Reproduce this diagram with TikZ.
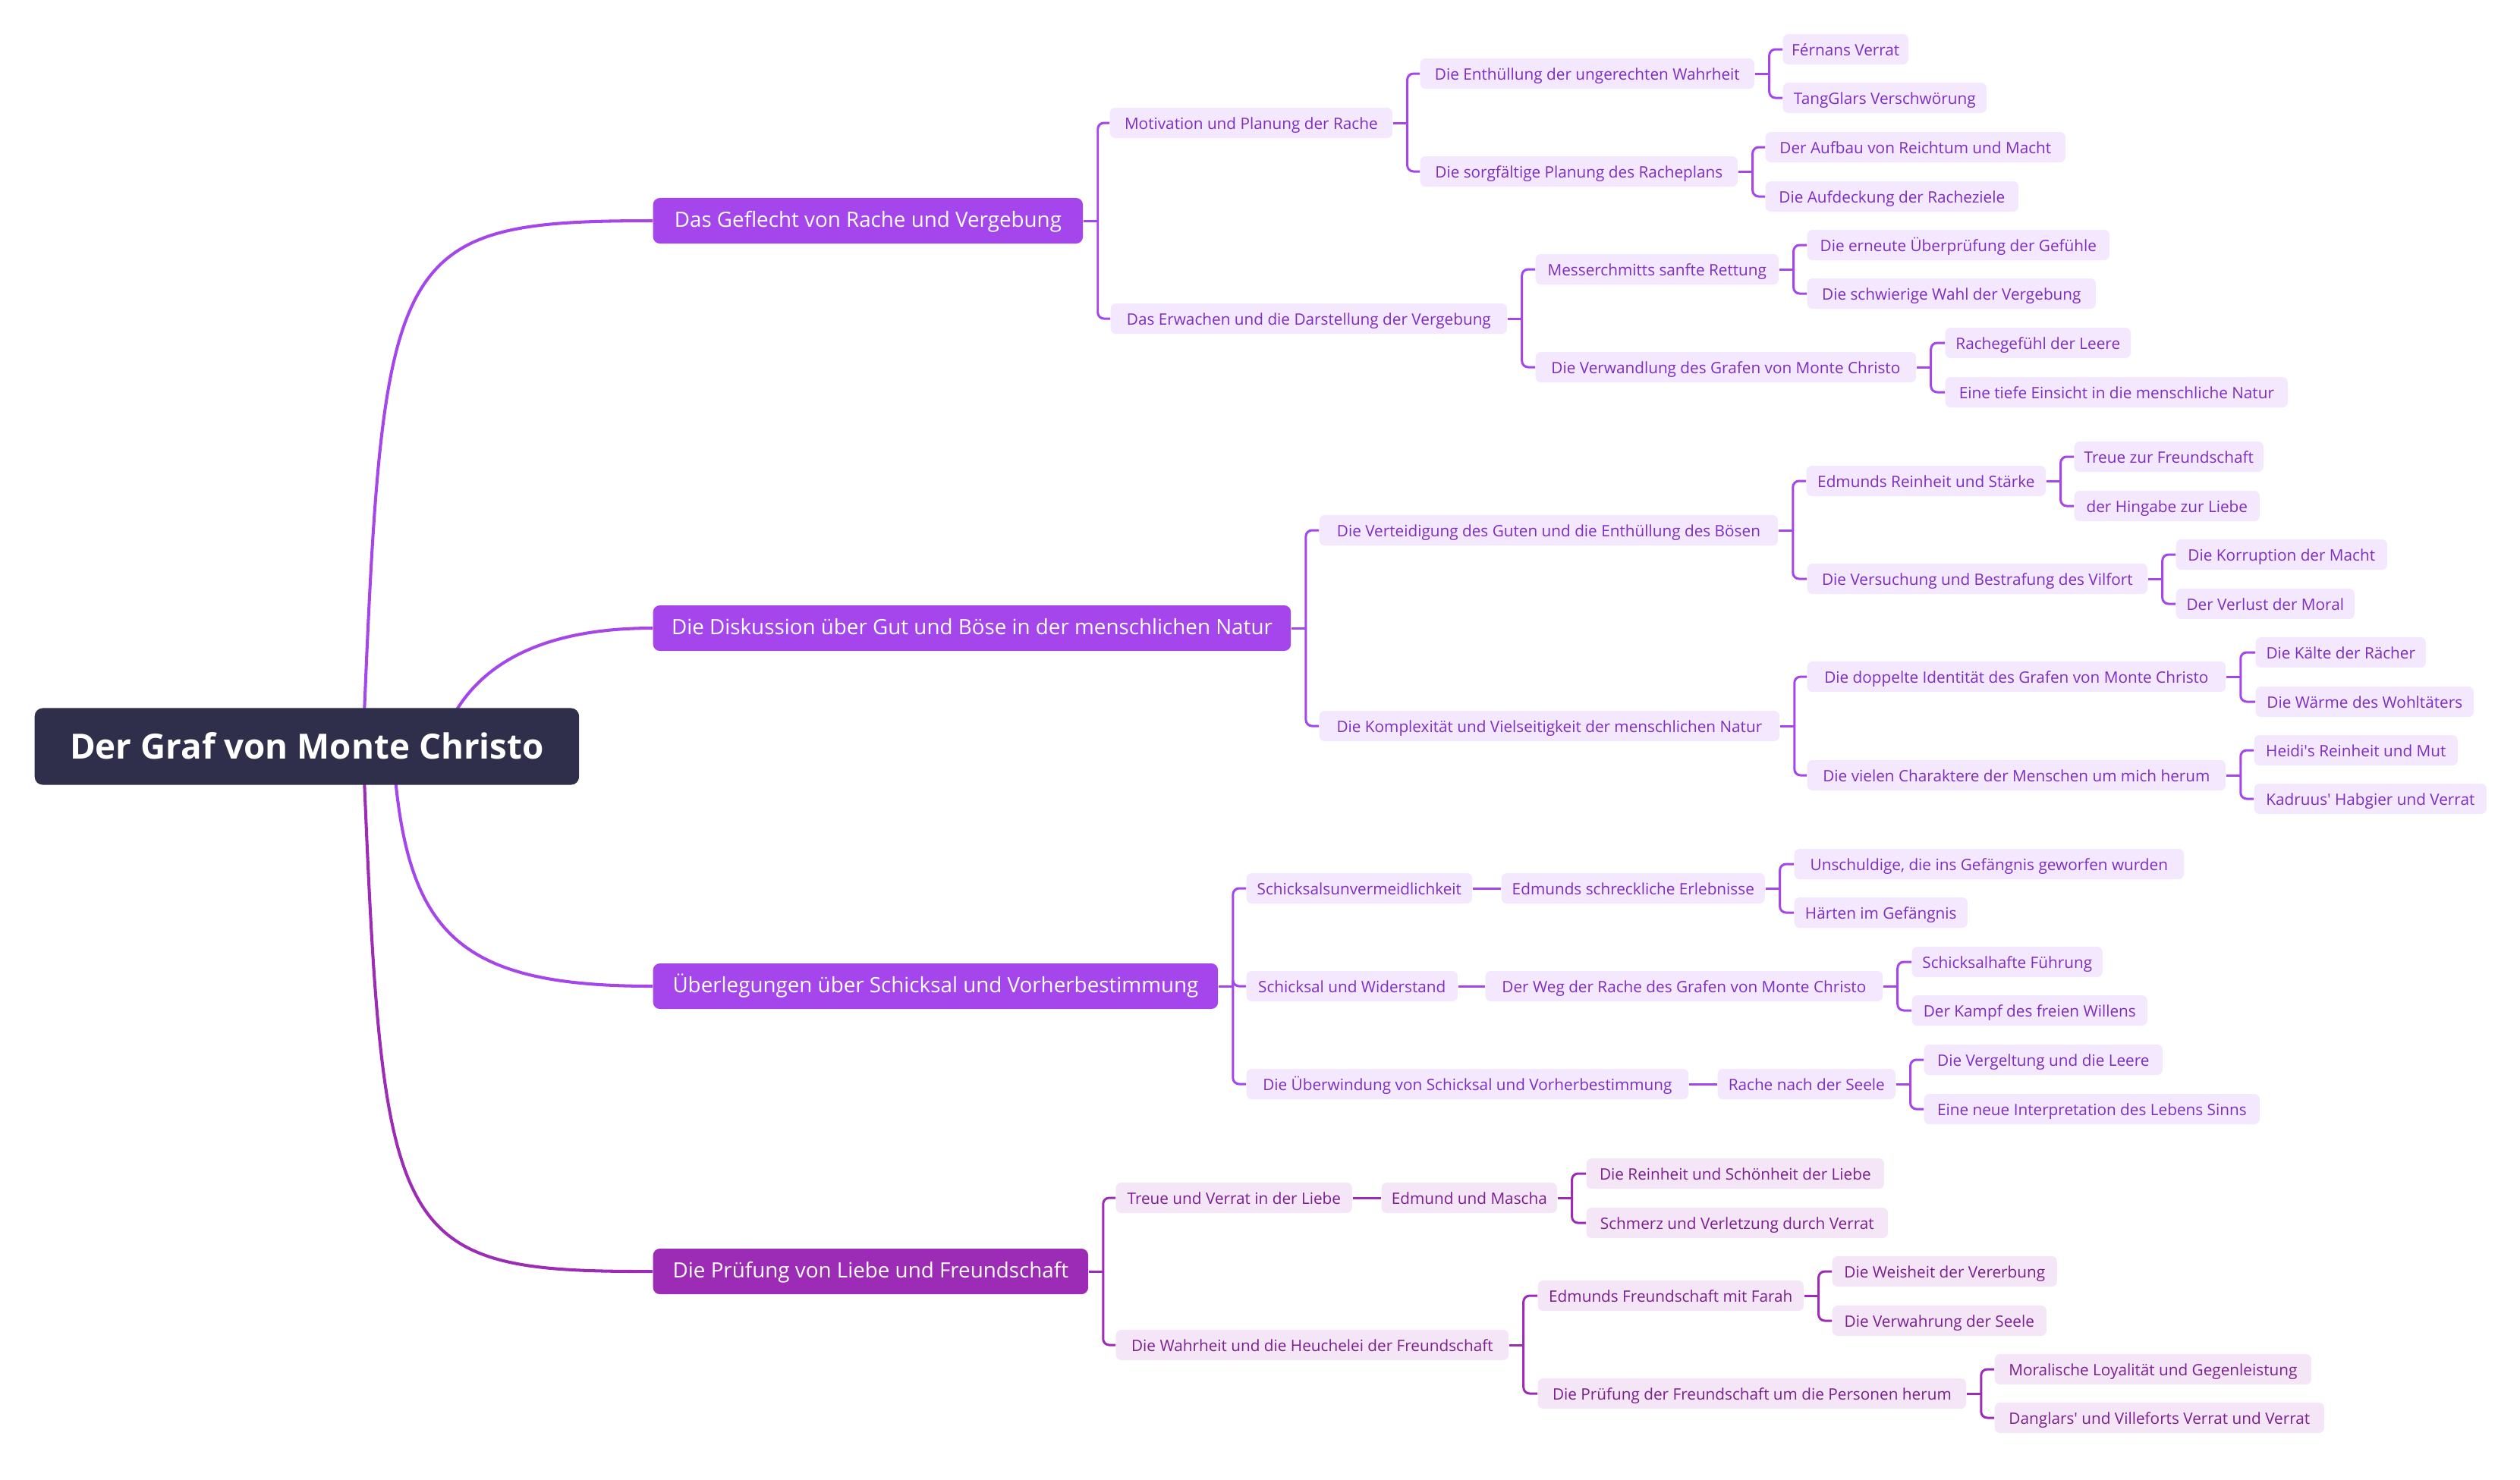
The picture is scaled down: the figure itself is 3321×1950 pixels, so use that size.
\documentclass[tikz,border=0pt]{standalone}
\usepackage{fontspec}
\setmainfont{Open Sans}
\usetikzlibrary{backgrounds}
\definecolor{rootbg}{HTML}{302F4B}
\definecolor{violett}{HTML}{A446EB}
\definecolor{lila}{HTML}{9C2BB5}
\definecolor{flieder}{HTML}{F3E8FD}
\definecolor{fliedertext}{HTML}{7D2EBF}
\definecolor{rosa}{HTML}{F4E6F7}
\definecolor{rosatext}{HTML}{7A1F8E}
\begin{document}
\begin{tikzpicture}[x=0.01cm, y=-0.01cm,
    root/.style={fill=rootbg, text=white, rounded corners=3pt, anchor=west,
        minimum height=1.01cm, inner sep=0pt, text height=9.3pt, text depth=0pt,
        font=\fontsize{13}{15}\selectfont\bfseries},
    topic/.style={fill=violett, text=white, rounded corners=2.5pt, anchor=west,
        minimum height=0.6cm, inner sep=0pt, text height=1.33ex, text depth=0.4ex,
        font=\fontsize{7.9}{9}\selectfont},
    topicd/.style={topic, fill=lila},
    sub/.style={fill=flieder, text=fliedertext, rounded corners=2pt, anchor=west,
        minimum height=0.4cm, inner sep=0pt, text height=1.33ex, text depth=0.4ex,
        font=\fontsize{5.9}{7}\selectfont},
    subd/.style={sub, fill=rosa, text=rosatext},
    link/.style={draw=violett, line width=0.85pt, rounded corners=2.3pt},
    linkd/.style={link, draw=lila},
    ast/.style={draw=violett, line width=1.15pt},
    astd/.style={ast, draw=lila}]
\useasboundingbox (0,0) rectangle (3321,1950);

% Zentrum
\node[root, minimum width=7.17cm] (root) at (45,984) {Der Graf von Monte Christo};

% Hauptaeste
\node[topic, minimum width=5.66cm] (A1) at (860,291) {Das Geflecht von Rache und Vergebung};
\node[topic, minimum width=8.40cm] (B1) at (860,828) {Die Diskussion über Gut und Böse in der menschlichen Natur};
\node[topic, minimum width=7.44cm] (C1) at (860,1300) {Überlegungen über Schicksal und Vorherbestimmung};
\node[topicd, minimum width=5.73cm] (D1) at (860,1676) {Die Prüfung von Liebe und Freundschaft};

% Rache und Vergebung
\node[sub, minimum width=3.72cm] (a1) at (1462,162) {Motivation und Planung der Rache};
\node[sub, minimum width=4.40cm] (a11) at (1871,97) {Die Enthüllung der ungerechten Wahrheit};
\node[sub, minimum width=1.65cm] (a111) at (2349,65) {Férnans Verrat};
\node[sub, minimum width=2.68cm] (a112) at (2349,129) {TangGlars Verschwörung};
\node[sub, minimum width=4.18cm] (a12) at (1871,226) {Die sorgfältige Planung des Racheplans};
\node[sub, minimum width=3.95cm] (a121) at (2326,194) {Der Aufbau von Reichtum und Macht};
\node[sub, minimum width=3.33cm] (a122) at (2326,259) {Die Aufdeckung der Racheziele};
\node[sub, minimum width=5.22cm] (a2) at (1463,420) {Das Erwachen und die Darstellung der Vergebung};
\node[sub, minimum width=3.20cm] (a21) at (2023,355) {Messerchmitts sanfte Rettung};
\node[sub, minimum width=3.98cm] (a211) at (2381,323) {Die erneute Überprüfung der Gefühle};
\node[sub, minimum width=3.80cm] (a212) at (2381,387) {Die schwierige Wahl der Vergebung};
\node[sub, minimum width=5.01cm] (a22) at (2023,484) {Die Verwandlung des Grafen von Monte Christo};
\node[sub, minimum width=2.44cm] (a221) at (2563,452) {Rachegefühl der Leere};
\node[sub, minimum width=4.51cm] (a222) at (2563,517) {Eine tiefe Einsicht in die menschliche Natur};

% Gut und Boese
\node[sub, minimum width=6.04cm] (b1) at (1738,699) {Die Verteidigung des Guten und die Enthüllung des Bösen};
\node[sub, minimum width=3.15cm] (b11) at (2380,634) {Edmunds Reinheit und Stärke};
\node[sub, minimum width=2.49cm] (b111) at (2733,602) {Treue zur Freundschaft};
\node[sub, minimum width=2.44cm] (b112) at (2733,667) {der Hingabe zur Liebe};
\node[sub, minimum width=4.48cm] (b12) at (2381,763) {Die Versuchung und Bestrafung des Vilfort};
\node[sub, minimum width=2.78cm] (b121) at (2867,731) {Die Korruption der Macht};
\node[sub, minimum width=2.35cm] (b122) at (2867,796) {Der Verlust der Moral};
\node[sub, minimum width=6.06cm] (b2) at (1738,957) {Die Komplexität und Vielseitigkeit der menschlichen Natur};
\node[sub, minimum width=5.51cm] (b21) at (2381,892) {Die doppelte Identität des Grafen von Monte Christo};
\node[sub, minimum width=2.24cm] (b211) at (2972,860) {Die Kälte der Rächer};
\node[sub, minimum width=2.87cm] (b212) at (2972,925) {Die Wärme des Wohltäters};
\node[sub, minimum width=5.51cm] (b22) at (2381,1022) {Die vielen Charaktere der Menschen um mich herum};
\node[sub, minimum width=2.68cm] (b221) at (2970,989) {Heidi\textquotesingle s Reinheit und Mut};
\node[sub, minimum width=3.06cm] (b222) at (2970,1053) {Kadruus\textquotesingle{} Habgier und Verrat};

% Schicksal
\node[sub, minimum width=2.97cm] (c1) at (1642,1171) {Schicksalsunvermeidlichkeit};
\node[sub, minimum width=3.47cm] (c11) at (1978,1171) {Edmunds schreckliche Erlebnisse};
\node[sub, minimum width=5.13cm] (c111) at (2364,1139) {Unschuldige, die ins Gefängnis geworfen wurden};
\node[sub, minimum width=2.28cm] (c112) at (2364,1203) {Härten im Gefängnis};
\node[sub, minimum width=2.78cm] (c2) at (1642,1300) {Schicksal und Widerstand};
\node[sub, minimum width=5.23cm] (c21) at (1957,1300) {Der Weg der Rache des Grafen von Monte Christo};
\node[sub, minimum width=2.51cm] (c211) at (2519,1268) {Schicksalhafte Führung};
\node[sub, minimum width=3.10cm] (c212) at (2519,1332) {Der Kampf des freien Willens};
\node[sub, minimum width=5.82cm] (c3) at (1642,1429) {Die Überwindung von Schicksal und Vorherbestimmung};
\node[sub, minimum width=2.34cm] (c31) at (2263,1429) {Rache nach der Seele};
\node[sub, minimum width=3.14cm] (c311) at (2535,1397) {Die Vergeltung und die Leere};
\node[sub, minimum width=4.42cm] (c312) at (2535,1462) {Eine neue Interpretation des Lebens Sinns};

% Liebe und Freundschaft
\node[subd, minimum width=3.11cm] (d1) at (1470,1579) {Treue und Verrat in der Liebe};
\node[subd, minimum width=2.31cm] (d11) at (1820,1579) {Edmund und Mascha};
\node[subd, minimum width=3.92cm] (d111) at (2090,1547) {Die Reinheit und Schönheit der Liebe};
\node[subd, minimum width=3.97cm] (d112) at (2090,1612) {Schmerz und Verletzung durch Verrat};
\node[subd, minimum width=5.17cm] (d2) at (1470,1773) {Die Wahrheit und die Heuchelei der Freundschaft};
\node[subd, minimum width=3.50cm] (d21) at (2026,1708) {Edmunds Freundschaft mit Farah};
\node[subd, minimum width=2.96cm] (d211) at (2414,1676) {Die Weisheit der Vererbung};
\node[subd, minimum width=2.82cm] (d212) at (2414,1741) {Die Verwahrung der Seele};
\node[subd, minimum width=5.64cm] (d22) at (2026,1837) {Die Prüfung der Freundschaft um die Personen herum};
\node[subd, minimum width=4.17cm] (d221) at (2628,1805) {Moralische Loyalität und Gegenleistung};
\node[subd, minimum width=4.34cm] (d222) at (2628,1869) {Danglars\textquotesingle{} und Villeforts Verrat und Verrat};

% Aeste vom Zentrum
\coordinate (ra) at (478,990);
\coordinate (rb) at (578,990);
\coordinate (rc) at (518,990);
\coordinate (rd) at (478,978);
\begin{scope}[on background layer]
\fill[white] (0,0) rectangle (3321,1950);
\draw[ast] (ra) .. controls (505,330) and (510,291) .. (A1.west);
\draw[ast] (rb) .. controls (604,900) and (680,828) .. (B1.west);
\draw[ast] (rc) .. controls (534,1230) and (600,1300) .. (C1.west);
\draw[astd] (rd) .. controls (505,1638) and (510,1677) .. (D1.west);
\end{scope}

% Verbindungen
\foreach \p in {A1,a1,a11,a12,a2,a21,a22,B1,b1,b11,b12,b2,b21,b22,C1,c11,c21,c31}
    \draw[link] (\p.east) -- ++(19,0);
\foreach \p/\c in {A1/a1,A1/a2,a1/a11,a1/a12,a11/a111,a11/a112,a12/a121,a12/a122,
    a2/a21,a2/a22,a21/a211,a21/a212,a22/a221,a22/a222,
    B1/b1,B1/b2,b1/b11,b1/b12,b11/b111,b11/b112,b12/b121,b12/b122,
    b2/b21,b2/b22,b21/b211,b21/b212,b22/b221,b22/b222,
    C1/c1,C1/c2,C1/c3,c11/c111,c11/c112,c21/c211,c21/c212,c31/c311,c31/c312}
    \draw[link] (\p.east) ++(19,0) |- (\c.west);
\foreach \p/\c in {c1/c11,c2/c21,c3/c31}
    \draw[link] (\p) -- (\c);

\foreach \p in {D1,d11,d2,d21,d22}
    \draw[linkd] (\p.east) -- ++(19,0);
\foreach \p/\c in {D1/d1,D1/d2,d11/d111,d11/d112,d2/d21,d2/d22,
    d21/d211,d21/d212,d22/d221,d22/d222}
    \draw[linkd] (\p.east) ++(19,0) |- (\c.west);
\draw[linkd] (d1) -- (d11);
\end{tikzpicture}
\end{document}
